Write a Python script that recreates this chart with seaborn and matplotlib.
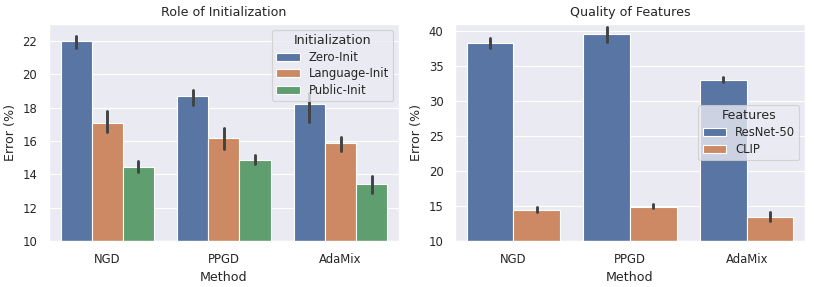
"""
Error of private fine-tuning methods: role of initialization and quality of features.
"""

import matplotlib
matplotlib.use("Agg")
import matplotlib.pyplot as plt
import pandas as pd
import seaborn as sns

methods = ["NGD", "PPGD", "AdaMix"]

# Role of Initialization: (low, bar, high) per method
init_names = ["Zero-Init", "Language-Init", "Public-Init"]
zero_init = [(21.55, 21.98, 22.28), (18.15, 18.71, 19.07), (17.14, 18.19, 18.85)]
language_init = [(16.52, 17.08, 17.79), (15.52, 16.16, 16.78), (15.42, 15.85, 16.26)]
public_init = [(14.13, 14.45, 14.77), (14.60, 14.84, 15.16), (12.91, 13.41, 13.89)]

# Quality of Features
feature_names = ["ResNet-50", "CLIP"]
resnet50 = [(37.62, 38.27, 39.04), (38.50, 39.60, 40.54), (32.75, 32.99, 33.46)]
clip = [(14.10, 14.48, 14.90), (14.67, 14.86, 15.28), (12.88, 13.40, 14.10)]


def to_long(series, names, hue_name):
    rows = []
    for name, values in zip(names, series):
        for method, runs in zip(methods, values):
            for v in runs:
                rows.append({"Method": method, hue_name: name, "Error (%)": v})
    return pd.DataFrame(rows)


df_init = to_long([zero_init, language_init, public_init], init_names, "Initialization")
df_feat = to_long([resnet50, clip], feature_names, "Features")

sns.set_theme(style="darkgrid", context="paper", font_scale=0.95)

fig, axes = plt.subplots(1, 2, figsize=(8.14, 2.87), dpi=100)
fig.subplots_adjust(left=0.060, right=0.989, bottom=0.160, top=0.916, wspace=0.16)

bar_kws = dict(x="Method", y="Error (%)", estimator="median",
               errorbar=("pi", 100), err_kws={"linewidth": 2.1})

ax = axes[0]
sns.barplot(data=df_init, hue="Initialization", ax=ax, **bar_kws)
ax.set_ylim(10, 23)
ax.set_yticks(range(10, 23, 2))
ax.set_title("Role of Initialization")
ax.legend(title="Initialization", loc="upper right", labelspacing=0.32,
          borderpad=0.35)

ax = axes[1]
sns.barplot(data=df_feat, hue="Features", ax=ax, **bar_kws)
ax.set_ylim(10, 41)
ax.set_yticks(range(10, 41, 5))
ax.set_title("Quality of Features")
ax.legend(title="Features", loc="center right", labelspacing=0.32,
          borderpad=0.35)

fig.savefig("out.png", dpi=100)
